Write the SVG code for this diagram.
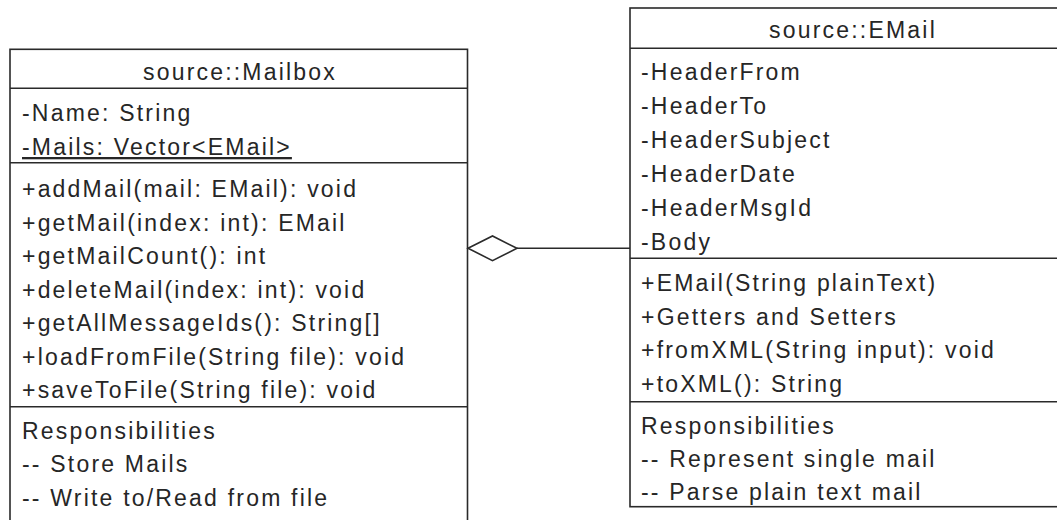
<svg xmlns="http://www.w3.org/2000/svg" width="1057" height="520" viewBox="0 0 1057 520">
  <defs>
    <style>
      .box { fill: #ffffff; stroke: #2a2a2a; stroke-width: 1.6; }
      .sep { stroke: #2a2a2a; stroke-width: 1.6; }
      .edge { fill: none; stroke: #2a2a2a; stroke-width: 1.6; }
      .diamond { fill: #ffffff; stroke: #2a2a2a; stroke-width: 1.6; stroke-linejoin: miter; }
      text { font-family: "Liberation Sans", Arial, sans-serif; font-size: 23px; letter-spacing: 2.2px; fill: #262626; }
      .title { text-anchor: middle; }
      .static { text-decoration: underline; }
    </style>
  </defs>

  <rect width="1057" height="520" fill="#ffffff"/>

  <!-- class source::Mailbox (runs off the bottom edge) -->
  <g id="mailbox">
    <rect class="box" x="10" y="49.3" width="457.5" height="490"/>
    <line class="sep" x1="10" y1="88.3" x2="467.5" y2="88.3"/>
    <line class="sep" x1="10" y1="162.7" x2="467.5" y2="162.7"/>
    <line class="sep" x1="10" y1="406.7" x2="467.5" y2="406.7"/>
    <text class="title" x="240" y="80">source::Mailbox</text>
    <text x="22" y="121">-Name: String</text>
    <text class="static" x="22" y="155">-Mails: Vector&lt;EMail&gt;</text>
    <text x="22" y="197">+addMail(mail: EMail): void</text>
    <text x="22" y="230.5">+getMail(index: int): EMail</text>
    <text x="22" y="264">+getMailCount(): int</text>
    <text x="22" y="297.5">+deleteMail(index: int): void</text>
    <text x="22" y="331">+getAllMessageIds(): String[]</text>
    <text x="22" y="364.5">+loadFromFile(String file): void</text>
    <text x="22" y="398">+saveToFile(String file): void</text>
    <text x="22" y="438.5">Responsibilities</text>
    <text x="22" y="472">-- Store Mails</text>
    <text x="22" y="505.5">-- Write to/Read from file</text>
  </g>

  <!-- class source::EMail (runs off the right edge) -->
  <g id="email">
    <rect class="box" x="630" y="8" width="460" height="498.7"/>
    <line class="sep" x1="630" y1="48.3" x2="1090" y2="48.3"/>
    <line class="sep" x1="630" y1="258.3" x2="1090" y2="258.3"/>
    <line class="sep" x1="630" y1="401.7" x2="1090" y2="401.7"/>
    <text class="title" x="853" y="38.3">source::EMail</text>
    <text x="641" y="80">-HeaderFrom</text>
    <text x="641" y="114">-HeaderTo</text>
    <text x="641" y="148">-HeaderSubject</text>
    <text x="641" y="182">-HeaderDate</text>
    <text x="641" y="216">-HeaderMsgId</text>
    <text x="641" y="250">-Body</text>
    <text x="641" y="291">+EMail(String plainText)</text>
    <text x="641" y="324.5">+Getters and Setters</text>
    <text x="641" y="358">+fromXML(String input): void</text>
    <text x="641" y="391.5">+toXML(): String</text>
    <text x="641" y="433.5">Responsibilities</text>
    <text x="641" y="467">-- Represent single mail</text>
    <text x="641" y="500">-- Parse plain text mail</text>
  </g>

  <!-- aggregation: Mailbox holds EMail -->
  <g id="connectors">
    <line class="edge" x1="517" y1="248.3" x2="630" y2="248.3"/>
    <polygon class="diamond" points="468,248.3 492.5,236 517,248.3 492.5,260.6"/>
  </g>
</svg>
